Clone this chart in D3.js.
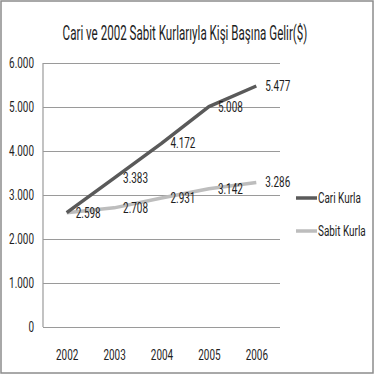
<!DOCTYPE html>
<html lang="tr">
<head>
<meta charset="utf-8">
<title>Kişi Başına Gelir</title>
<script src="https://cdn.jsdelivr.net/npm/d3@7"></script>
<style>
  * { margin: 0; padding: 0; }
  body { background: #fff; }
  svg text { font-family: Roboto, "Liberation Sans", sans-serif; fill: #1e1e1e; }
</style>
</head>
<body>
<div id="chart"></div>
<script>
  // veriler
  var years = ["2002", "2003", "2004", "2005", "2006"];
  var cari = [2598, 3383, 4172, 5008, 5477];
  var sabit = [2598, 2708, 2931, 3142, 3286];
  var yTicks = [0, 1000, 2000, 3000, 4000, 5000, 6000];
  var seriesNames = ["Cari Kurla", "Sabit Kurla"];
  var seriesColors = ["#5a5a5a", "#bdbdbd"];

  var W = 375, H = 375;
  var plot = { left: 43, right: 280, top: 63, bottom: 327 };
  var FS = "14px";
  var K = 0.71;

  var svg = d3.select("#chart").append("svg")
    .attr("width", W).attr("height", H);

  // Calibri gibi dar görünmesi için yazıları yatayda sıkıştır (x'i koru)
  function condense(sel, k) {
    sel.each(function() {
      var t = d3.select(this);
      var x0 = +t.attr("x") || 0;
      t.attr("x", x0 / k).attr("transform", "scale(" + k + ",1)");
    });
  }

  // kenarlık
  svg.append("rect")
    .attr("x", 1).attr("y", 1).attr("width", W - 3).attr("height", H - 3)
    .attr("fill", "#fff").attr("stroke", "#8c8c8c").attr("stroke-width", 1.5);

  svg.append("text")
    .attr("x", 185).attr("y", 40)
    .attr("text-anchor", "middle")
    .attr("font-size", "20px")
    .text("Cari ve 2002 Sabit Kurlarıyla Kişi Başına Gelir($)")
    .call(condense, 0.58);

  var x = d3.scalePoint().domain(years)
    .range([plot.left, plot.right]).padding(0.5);
  var y = d3.scaleLinear().domain([0, 6000])
    .range([plot.bottom, plot.top]);

  var fmt = function(v) { return d3.format(",")(v).replace(/,/g, "."); };

  // y ekseni ve ızgara
  var yAxis = svg.append("g")
    .attr("transform", "translate(" + plot.left + ",0)")
    .call(d3.axisLeft(y).tickValues(yTicks).tickFormat(fmt)
      .tickSize(-(plot.right - plot.left)).tickPadding(9));
  yAxis.select(".domain").remove();
  yAxis.selectAll("line").attr("stroke", "#9a9a9a").attr("stroke-width", 1.2);
  yAxis.selectAll("text").attr("font-size", FS).attr("fill", "#1e1e1e")
    .style("font-family", "Roboto, sans-serif")
    .call(condense, K);

  svg.append("line")
    .attr("x1", plot.left).attr("x2", plot.left)
    .attr("y1", plot.top).attr("y2", plot.bottom)
    .attr("stroke", "#9a9a9a").attr("stroke-width", 1.2);

  // x ekseni
  var xAxis = svg.append("g")
    .attr("transform", "translate(0," + plot.bottom + ")")
    .call(d3.axisBottom(x).tickSize(0).tickPadding(23));
  xAxis.select(".domain").remove();
  xAxis.selectAll("text").attr("font-size", FS).attr("fill", "#1e1e1e")
    .style("font-family", "Roboto, sans-serif")
    .call(condense, K);

  var line = d3.line()
    .x(function(d, i) { return x(years[i]); })
    .y(function(d) { return y(d); });

  [sabit, cari].forEach(function(vals, k) {
    var idx = k === 0 ? 1 : 0;
    svg.append("path")
      .datum(vals)
      .attr("d", line)
      .attr("fill", "none")
      .attr("stroke", seriesColors[idx])
      .attr("stroke-width", 3.5)
      .attr("stroke-linejoin", "round");
  });

  // veri etiketleri (2002'de iki seri aynı, etiket bir kez yazılır)
  [cari, sabit].forEach(function(vals, s) {
    var pts = vals.map(function(v, i) { return { v: v, i: i }; })
      .filter(function(p) { return s === 0 || p.v !== cari[p.i]; });
    svg.append("g").selectAll("text")
      .data(pts)
      .enter().append("text")
      .attr("x", function(p) { return x(years[p.i]) + 9; })
      .attr("y", function(p) { return y(p.v) + 5; })
      .attr("font-size", FS)
      .text(function(p) { return fmt(p.v); })
      .call(condense, K);
  });

  // lejant
  var leg = svg.append("g");
  seriesNames.forEach(function(name, i) {
    var ly = 198 + i * 33;
    leg.append("line")
      .attr("x1", 296).attr("x2", 317).attr("y1", ly).attr("y2", ly)
      .attr("stroke", seriesColors[i]).attr("stroke-width", 3.5);
    leg.append("text")
      .attr("x", 318).attr("y", ly + 5)
      .attr("font-size", FS)
      .text(name)
      .call(condense, K);
  });
</script>
</body>
</html>
